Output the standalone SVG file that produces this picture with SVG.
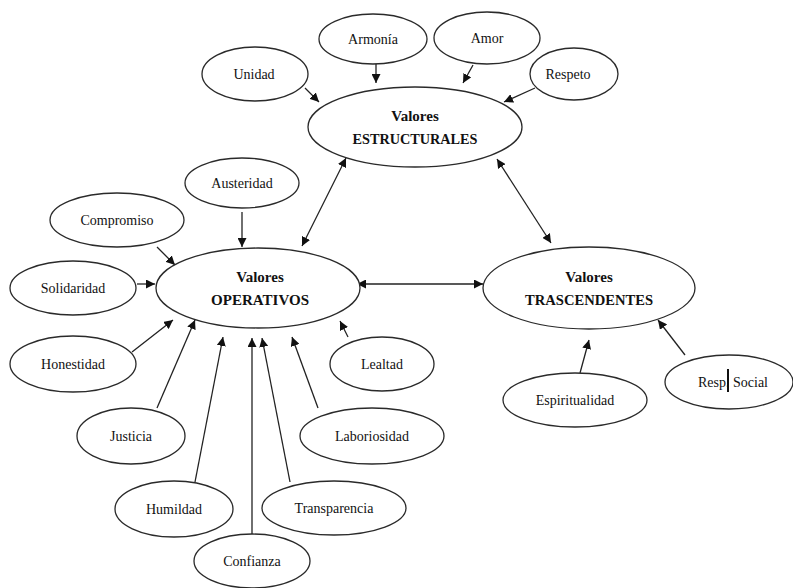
<svg xmlns="http://www.w3.org/2000/svg" width="793" height="588" viewBox="0 0 793 588">
  <style>
    .node ellipse { fill: #fff; stroke: #2a2a2a; stroke-width: 1.3; }
    .node text { font-family: "Liberation Serif", "Times New Roman", serif !important; font-size: 14px; fill: #111; text-anchor: middle; }
    .node text.main { font-size: 15px; font-weight: bold; }
    #connectors line { stroke: #222; stroke-width: 1.3; }
    .one { marker-end: url(#arrow); }
    .two { marker-start: url(#arrowStart); marker-end: url(#arrow); }
  </style>
  <defs>
    <marker id="arrow" viewBox="0 0 10 10" refX="10" refY="5" markerWidth="9" markerHeight="9" markerUnits="userSpaceOnUse" orient="auto">
      <path d="M0,0 L10,5 L0,10 z" fill="#111"/>
    </marker>
    <marker id="arrowStart" viewBox="0 0 10 10" refX="0" refY="5" markerWidth="9" markerHeight="9" markerUnits="userSpaceOnUse" orient="auto">
      <path d="M10,0 L0,5 L10,10 z" fill="#111"/>
    </marker>
  </defs>
  <rect width="793" height="588" fill="#fff"/>

  <g id="connectors">
    <line class="one" x1="305" y1="88" x2="319" y2="102"/>
    <line class="one" x1="376" y1="64" x2="376" y2="83"/>
    <line class="one" x1="473" y1="65" x2="463" y2="83"/>
    <line class="one" x1="535" y1="88" x2="504" y2="102"/>
    <line class="two" x1="346" y1="158" x2="302" y2="246"/>
    <line class="two" x1="497" y1="159" x2="551" y2="243"/>
    <line class="two" x1="357" y1="284" x2="483" y2="284"/>
    <line class="one" x1="242" y1="212" x2="242" y2="247"/>
    <line class="one" x1="157" y1="247" x2="175" y2="265"/>
    <line class="one" x1="137" y1="284" x2="155" y2="284"/>
    <line class="one" x1="132" y1="352" x2="173" y2="320"/>
    <line class="one" x1="157" y1="408" x2="195" y2="320"/>
    <line class="one" x1="195" y1="482" x2="223" y2="337"/>
    <line class="one" x1="252" y1="535" x2="252" y2="338"/>
    <line class="one" x1="290" y1="482" x2="262" y2="338"/>
    <line class="one" x1="318" y1="408" x2="292" y2="337"/>
    <line class="one" x1="348" y1="337" x2="340" y2="321"/>
    <line class="one" x1="580" y1="373" x2="589" y2="340"/>
    <line class="one" x1="685" y1="355" x2="658" y2="320"/>
  </g>

  <g id="estructurales" class="node">
    <ellipse cx="415" cy="127" rx="107" ry="40"/>
    <text class="main" x="415" y="121">Valores</text>
    <text class="main" x="415" y="144" textLength="125" lengthAdjust="spacingAndGlyphs">ESTRUCTURALES</text>
  </g>
  <g id="operativos" class="node">
    <ellipse cx="258" cy="288" rx="102" ry="40"/>
    <text class="main" x="260" y="282">Valores</text>
    <text class="main" x="260" y="305" textLength="98" lengthAdjust="spacingAndGlyphs">OPERATIVOS</text>
  </g>
  <g id="trascendentes" class="node">
    <ellipse cx="589" cy="288" rx="106" ry="41"/>
    <text class="main" x="589" y="282">Valores</text>
    <text class="main" x="589" y="305" textLength="128" lengthAdjust="spacingAndGlyphs">TRASCENDENTES</text>
  </g>

  <g id="armonia" class="node">
    <ellipse cx="373" cy="39" rx="54" ry="25"/>
    <text x="373" y="44">Armonía</text>
  </g>
  <g id="amor" class="node">
    <ellipse cx="487" cy="38" rx="53" ry="26"/>
    <text x="487" y="43">Amor</text>
  </g>
  <g id="unidad" class="node">
    <ellipse cx="255" cy="74" rx="53" ry="27"/>
    <text x="254" y="79">Unidad</text>
  </g>
  <g id="respeto" class="node">
    <ellipse cx="574" cy="74" rx="44" ry="26"/>
    <text x="568" y="79">Respeto</text>
  </g>

  <g id="austeridad" class="node">
    <ellipse cx="242" cy="183" rx="57" ry="25"/>
    <text x="242" y="188">Austeridad</text>
  </g>
  <g id="compromiso" class="node">
    <ellipse cx="117" cy="220" rx="67" ry="27"/>
    <text x="117" y="225">Compromiso</text>
  </g>
  <g id="solidaridad" class="node">
    <ellipse cx="73" cy="288" rx="63" ry="27"/>
    <text x="73" y="293">Solidaridad</text>
  </g>
  <g id="honestidad" class="node">
    <ellipse cx="73" cy="364" rx="63" ry="28"/>
    <text x="73" y="369">Honestidad</text>
  </g>
  <g id="justicia" class="node">
    <ellipse cx="131" cy="436" rx="54" ry="28"/>
    <text x="131" y="441">Justicia</text>
  </g>
  <g id="humildad" class="node">
    <ellipse cx="174" cy="509" rx="59" ry="28"/>
    <text x="174" y="514">Humildad</text>
  </g>
  <g id="confianza" class="node">
    <ellipse cx="252" cy="561" rx="58" ry="27"/>
    <text x="252" y="566">Confianza</text>
  </g>
  <g id="transparencia" class="node">
    <ellipse cx="334" cy="508" rx="72" ry="27"/>
    <text x="334" y="513">Transparencia</text>
  </g>
  <g id="laboriosidad" class="node">
    <ellipse cx="372" cy="436" rx="72" ry="28"/>
    <text x="372" y="441">Laboriosidad</text>
  </g>
  <g id="lealtad" class="node">
    <ellipse cx="382" cy="364" rx="52" ry="27"/>
    <text x="382" y="369">Lealtad</text>
  </g>

  <g id="espiritualidad" class="node">
    <ellipse cx="575" cy="400" rx="72" ry="27"/>
    <text x="575" y="405">Espiritualidad</text>
  </g>
  <g id="resp-social" class="node">
    <ellipse cx="729" cy="382" rx="64" ry="27"/>
    <text x="733" y="387">Resp. Social</text>
    <rect x="727" y="369" width="2" height="23" fill="#111"/>
  </g>
</svg>
